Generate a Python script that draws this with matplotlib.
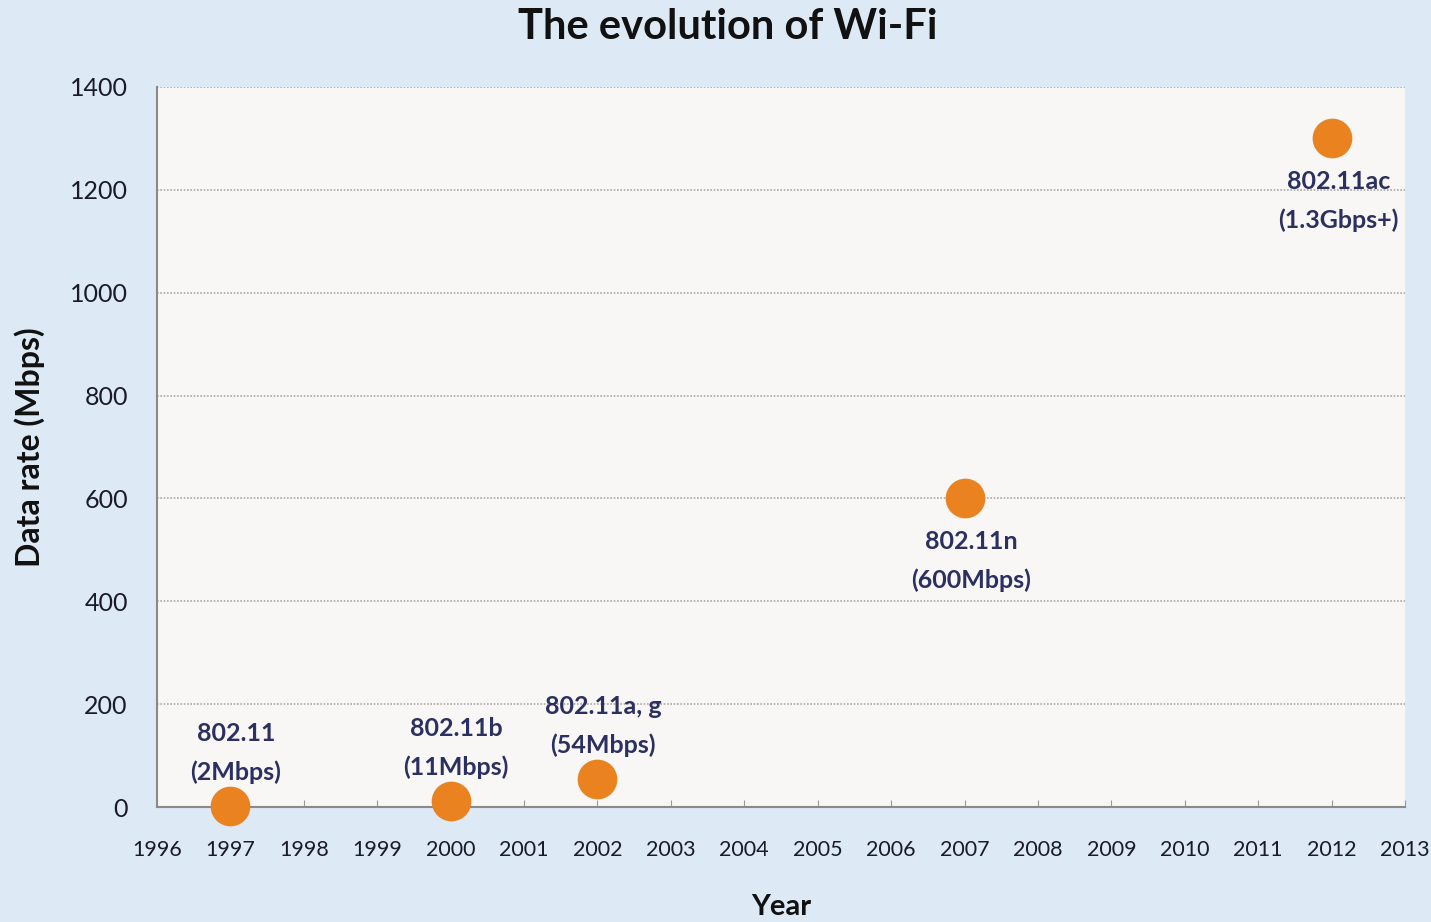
import matplotlib
matplotlib.use('Agg')
import matplotlib.pyplot as plt

plt.rcParams['font.family'] = ['Lato', 'DejaVu Sans']

# данные
years = [1997, 2000, 2002, 2007, 2012]
rates = [2, 11, 54, 600, 1300]
names = ['802.11\n(2Mbps)', '802.11b\n(11Mbps)', '802.11a, g\n(54Mbps)',
         '802.11n\n(600Mbps)', '802.11ac\n(1.3Gbps+)']
label_above = [True, True, True, False, False]
x_ticks = list(range(1996, 2014))
y_ticks = [0, 200, 400, 600, 800, 1000, 1200, 1400]

BG = '#dde9f5'
NAVY = '#2b3060'
ORANGE = '#e9821f'

fig = plt.figure(figsize=(14.31, 9.22), dpi=100, facecolor=BG)
ax = fig.add_axes([157/1431, 1 - 807/922, (1405-157)/1431, (807-87)/922])
ax.set_facecolor('#f8f7f5')

ax.scatter(years, rates, s=760, color=ORANGE, zorder=3, clip_on=False)

for x, y, t, above in zip(years, rates, names, label_above):
    if above:
        ax.annotate(t, (x, y), xytext=(4, 16), textcoords='offset points',
                    ha='center', va='bottom', fontsize=18, color=NAVY,
                    fontweight='bold', linespacing=1.8)
    else:
        ax.annotate(t, (x, y), xytext=(5, -22.5), textcoords='offset points',
                    ha='center', va='top', fontsize=18, color=NAVY,
                    fontweight='bold', linespacing=1.8)

ax.set_xlim(1996, 2013)
ax.set_ylim(0, 1400)
ax.set_xticks(x_ticks)
ax.set_yticks(y_ticks)
ax.tick_params(axis='x', direction='in', length=5, color='#9a9a9a',
               labelsize=15.5, pad=24)
ax.tick_params(axis='y', length=0, labelsize=18, pad=21)
for lbl in ax.get_xticklabels() + ax.get_yticklabels():
    lbl.set_color('#1a1a2a')

ax.yaxis.grid(True, linestyle=(0, (1, 1)), color='#a8a8a8', linewidth=1.2)
ax.set_axisbelow(True)
for s in ['top', 'right']:
    ax.spines[s].set_visible(False)
ax.spines['left'].set_color('#8a8a8a')
ax.spines['bottom'].set_color('#8a8a8a')
ax.spines['left'].set_linewidth(1.5)
ax.spines['bottom'].set_linewidth(1.5)

ax.set_xlabel('Year', fontsize=21, fontweight='bold', color='#111111', labelpad=24)
ax.set_ylabel('Data rate (Mbps)', fontsize=23, fontweight='bold', color='#111111', labelpad=18)
fig.text(728/1431, 1 - 27/922, 'The evolution of Wi-Fi', ha='center', va='center',
         fontsize=30, fontweight='bold', color='#111111')

fig.savefig('out.png', dpi=100, facecolor=BG)
